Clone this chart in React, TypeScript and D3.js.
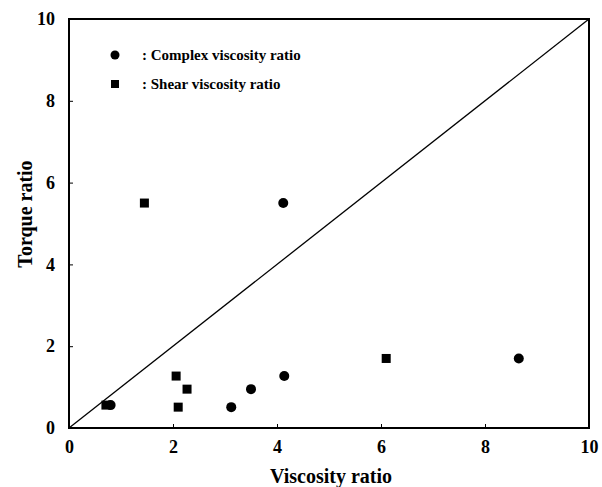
import React, { useRef, useEffect } from "react";
import * as d3 from "d3";

const complexX = [0.8, 3.12, 3.5, 4.14, 8.65, 4.12];
const complexY = [0.56, 0.51, 0.95, 1.27, 1.7, 5.5];
const shearX = [0.71, 2.06, 2.27, 2.1, 6.1, 1.45];
const shearY = [0.56, 1.27, 0.95, 0.51, 1.7, 5.5];
const ticks = [0, 2, 4, 6, 8, 10];
const legendLabels = [": Complex viscosity ratio", ": Shear viscosity ratio"];

const FONT = "'Times New Roman', 'Liberation Serif', serif";

function App() {
  const ref = useRef<SVGSVGElement>(null);

  useEffect(() => {
    const svg = d3.select(ref.current);
    svg.selectAll("*").remove();

    const x = d3.scaleLinear().domain([0, 10]).range([69, 589]);
    const y = d3.scaleLinear().domain([0, 10]).range([428, 19]);

    // frame
    svg
      .append("rect")
      .attr("x", x(0))
      .attr("y", y(10))
      .attr("width", x(10) - x(0))
      .attr("height", y(0) - y(10))
      .attr("fill", "none")
      .attr("stroke", "#000")
      .attr("stroke-width", 2);

    const xAxis = svg
      .append("g")
      .attr("transform", `translate(0,${y(0)})`)
      .call(d3.axisBottom(x).tickValues(ticks).tickSizeInner(-4).tickSizeOuter(0).tickPadding(12));
    const yAxis = svg
      .append("g")
      .attr("transform", `translate(${x(0)},0)`)
      .call(d3.axisLeft(y).tickValues(ticks).tickSizeInner(-4).tickSizeOuter(0).tickPadding(14));

    [xAxis, yAxis].forEach((g) => {
      g.select(".domain").remove();
      g.selectAll("text")
        .attr("font-family", FONT)
        .attr("font-weight", "bold")
        .attr("font-size", 18)
        .attr("fill", "#000");
    });

    // diagonal
    svg
      .append("line")
      .attr("x1", x(0))
      .attr("y1", y(0))
      .attr("x2", x(10))
      .attr("y2", y(10))
      .attr("stroke", "#000")
      .attr("stroke-width", 1.3);

    svg
      .selectAll(".complex")
      .data(complexX)
      .enter()
      .append("circle")
      .attr("cx", (d) => x(d))
      .attr("cy", (d, i) => y(complexY[i]))
      .attr("r", 5)
      .attr("fill", "#000");

    const s = 9;
    svg
      .selectAll(".shear")
      .data(shearX)
      .enter()
      .append("rect")
      .attr("x", (d) => x(d) - s / 2)
      .attr("y", (d, i) => y(shearY[i]) - s / 2)
      .attr("width", s)
      .attr("height", s)
      .attr("fill", "#000");

    // legend
    svg.append("circle").attr("cx", 115).attr("cy", 55).attr("r", 4.5).attr("fill", "#000");
    svg.append("rect").attr("x", 111).attr("y", 80).attr("width", 8).attr("height", 8).attr("fill", "#000");
    legendLabels.forEach((t, i) => {
      svg
        .append("text")
        .attr("x", 142)
        .attr("y", 55 + i * 29)
        .attr("dy", "0.35em")
        .attr("font-family", FONT)
        .attr("font-weight", "bold")
        .attr("font-size", 15)
        .text(t);
    });

    svg
      .append("text")
      .attr("x", 331)
      .attr("y", 483)
      .attr("text-anchor", "middle")
      .attr("font-family", FONT)
      .attr("font-weight", "bold")
      .attr("font-size", 20)
      .text("Viscosity ratio");

    svg
      .append("text")
      .attr("transform", `translate(32,214) rotate(-90)`)
      .attr("text-anchor", "middle")
      .attr("font-family", FONT)
      .attr("font-weight", "bold")
      .attr("font-size", 20)
      .text("Torque ratio");
  }, []);

  return (
    <svg
      ref={ref}
      width="602"
      height="487"
      style={{ position: "absolute", left: 0, top: 0, background: "#fff" }}
    ></svg>
  );
}

export default App;
